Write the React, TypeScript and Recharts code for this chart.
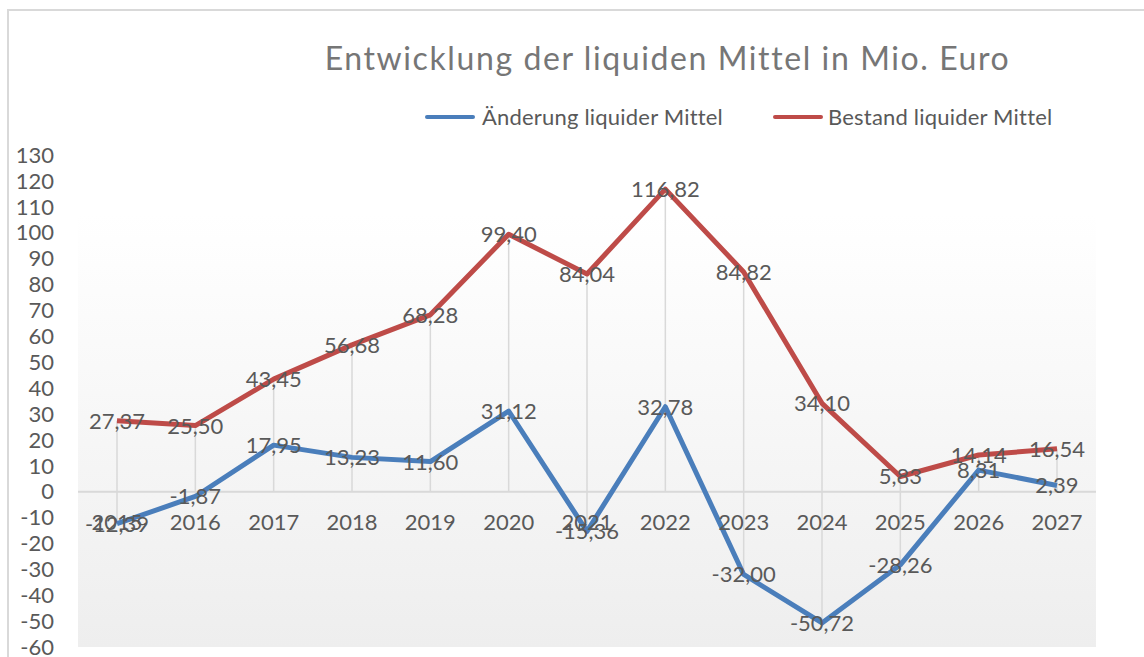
import { CartesianGrid, Line, LineChart, LabelList, ReferenceDot, ReferenceLine, XAxis, YAxis } from "recharts";

const years = ["2015", "2016", "2017", "2018", "2019", "2020", "2021", "2022", "2023", "2024", "2025", "2026", "2027"];
const aenderung = [-12.39, -1.87, 17.95, 13.23, 11.6, 31.12, -15.36, 32.78, -32.0, -50.72, -28.26, 8.31, 2.39];
const bestand = [27.37, 25.5, 43.45, 56.68, 68.28, 99.4, 84.04, 116.82, 84.82, 34.1, 5.83, 14.14, 16.54];
const yTicks = [130, 120, 110, 100, 90, 80, 70, 60, 50, 40, 30, 20, 10, 0, -10, -20, -30, -40, -50, -60];

const rows = years.map((year, i) => ({ year, aenderung: aenderung[i], bestand: bestand[i] }));

const font = "Lato, 'Noto Sans', sans-serif";
const textColor = "#595959";
const blue = "#4a7ebb";
const red = "#be4b48";

const fmt = (v: number) => v.toFixed(2).replace(".", ",");

function ValueLabel(props: any) {
  const { x, y, value } = props;
  if (x == null || y == null) return null;
  return (
    <text x={x} y={y} dy="0.36em" textAnchor="middle" fill={textColor} fontSize={22} fontFamily={font}>
      {fmt(Number(value))}
    </text>
  );
}

export default function App() {
  return (
    <div style={{ position: "absolute", left: 0, top: 0, width: 1144, height: 657, background: "#fff", fontFamily: font }}>
      <div style={{ position: "absolute", left: 7, top: 9, right: 0, bottom: 0, borderTop: "2px solid #d9d9d9", borderLeft: "2px solid #d9d9d9" }} />
      <div style={{ position: "absolute", left: 0, width: 1335, top: 38, textAlign: "center", fontSize: 32, letterSpacing: 1.6, color: "#767676" }}>
        Entwicklung der liquiden Mittel in Mio. Euro
      </div>
      <div style={{ position: "absolute", left: 425, top: 103, display: "flex", alignItems: "center", fontSize: 22, letterSpacing: 0.2, color: textColor }}>
        <svg width={50} height={6}><line x1={2} y1={3} x2={48} y2={3} stroke={blue} strokeWidth={4} strokeLinecap="round" /></svg>
        <span style={{ marginLeft: 7 }}>Änderung liquider Mittel</span>
        <svg width={50} height={6} style={{ marginLeft: 50 }}><line x1={2} y1={3} x2={48} y2={3} stroke={red} strokeWidth={4} strokeLinecap="round" /></svg>
        <span style={{ marginLeft: 5 }}>Bestand liquider Mittel</span>
      </div>
      <div style={{ position: "absolute", left: 0, top: 0 }}>
        <LineChart width={1144} height={657} data={rows} margin={{ top: 155, right: 48, left: 0, bottom: 10 }}>
          <defs>
            <linearGradient id="plotBg" x1="0" y1="0" x2="0" y2="1">
              <stop offset="0%" stopColor="#ffffff" />
              <stop offset="12%" stopColor="#ffffff" />
              <stop offset="100%" stopColor="#eeeeee" />
            </linearGradient>
          </defs>
          <CartesianGrid horizontal={false} vertical={false} fill="url(#plotBg)" stroke="none" />
          <XAxis dataKey="year" hide padding={{ left: 39, right: 39 }} />
          <YAxis
            width={78}
            domain={[-60, 130]}
            ticks={yTicks}
            interval={0}
            axisLine={false}
            tickLine={false}
            tickSize={0}
            tickMargin={24}
            tick={{ fill: textColor, fontSize: 22, fontFamily: font }}
          />
          <ReferenceLine y={0} stroke="#d9d9d9" strokeWidth={2} />
          {rows.map((r) => (
            <ReferenceLine
              key={`drop-${r.year}`}
              segment={[
                { x: r.year, y: Math.max(r.aenderung, r.bestand, 0) },
                { x: r.year, y: Math.min(r.aenderung, r.bestand, 0) }
              ]}
              stroke="#d9d9d9"
              strokeWidth={1.5}
            />
          ))}
          {rows.map((r) => (
            <ReferenceDot
              key={`cat-${r.year}`}
              x={r.year}
              y={0}
              r={0}
              fill="none"
              stroke="none"
              label={{ value: r.year, position: "bottom", offset: 23, fill: textColor, fontSize: 22, fontFamily: font }}
            />
          ))}
          <Line dataKey="aenderung" stroke={blue} strokeWidth={5} dot={false} isAnimationActive={false} strokeLinejoin="round">
            <LabelList dataKey="aenderung" content={ValueLabel} />
          </Line>
          <Line dataKey="bestand" stroke={red} strokeWidth={5} dot={false} isAnimationActive={false} strokeLinejoin="round">
            <LabelList dataKey="bestand" content={ValueLabel} />
          </Line>
        </LineChart>
      </div>
    </div>
  );
}
